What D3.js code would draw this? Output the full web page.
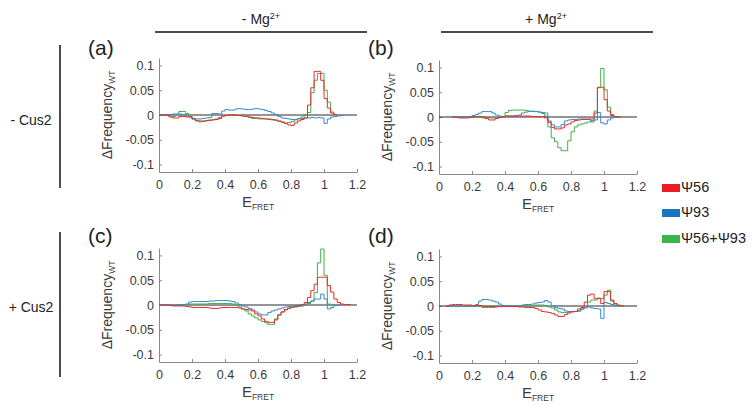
<!DOCTYPE html>
<html><head><meta charset="utf-8">
<script src="https://cdn.jsdelivr.net/npm/d3@7/dist/d3.min.js"></script>
<style>
html,body{margin:0;padding:0;background:#fff;}
svg text{font-family:"Liberation Sans",Arial,sans-serif;}
</style></head>
<body>
<svg id="chart" width="754" height="407"></svg>
<script>
// ---------- data ----------
const binWidth = 0.02;
const efret = d3.range(60).map(i => +(i * binWidth).toFixed(2)); // bin starts 0 .. 1.18
const xTicks = [0, 0.2, 0.4, 0.6, 0.8, 1, 1.2];
const yTicks = [-0.1, -0.05, 0, 0.05, 0.1];
const seriesNames = ["Ψ56", "Ψ93", "Ψ56+Ψ93"];
const panelLabels = ["(a)", "(b)", "(c)", "(d)"];
const colHeaders = ["- Mg", "+ Mg"];
const rowHeaders = ["- Cus2", "+ Cus2"];
const _ = null;

// panel (a): -Mg, -Cus2
const aPsi56 = [0,0,-0.001,-0.004,-0.006,-0.006,-0.003,-0.003,-0.004,-0.004,
 -0.008,-0.011,-0.012,-0.012,-0.011,-0.011,-0.010,-0.009,-0.007,-0.002,
 -0.001,0,0,-0.001,-0.001,-0.002,-0.003,-0.004,-0.005,-0.006,
 -0.006,-0.007,-0.008,-0.008,-0.009,-0.010,-0.012,-0.014,-0.017,-0.020,
 -0.021,-0.016,-0.012,-0.009,-0.006,0.020,0.055,0.088,0.088,0.070,
 0.033,0.014,0.004,0.001,_,_,_,_,_,_];
const aPsi93 = [0,0,0,0.001,0.002,0.002,0.002,0.001,-0.002,-0.004,
 -0.007,-0.008,-0.008,-0.007,-0.006,-0.005,0.003,0.003,0.002,0.008,
 0.011,0.010,0.010,0.012,0.013,0.012,0.011,0.011,0.012,0.013,
 0.012,0.011,0.009,0.007,0.004,0.001,-0.003,-0.006,-0.007,-0.008,
 -0.009,-0.009,-0.008,-0.007,-0.006,-0.006,-0.005,-0.006,-0.005,-0.006,
 -0.017,-0.008,-0.004,-0.003,-0.002,-0.001,_,_,_,_];
const aPsi56Psi93 = [0.001,0.001,0,-0.002,-0.003,0,0.007,0.007,0.003,-0.002,
 -0.008,-0.012,-0.014,-0.013,-0.012,-0.010,-0.009,-0.008,-0.005,-0.002,
 -0.001,0,0,0,-0.001,-0.002,-0.003,-0.005,-0.007,-0.007,
 -0.008,-0.008,-0.008,-0.009,-0.010,-0.011,-0.013,-0.015,-0.016,-0.015,
 -0.013,-0.010,-0.007,-0.004,0,0.005,0.045,0.070,0.084,0.084,
 0.050,0.026,0.006,0.001,_,_,_,_,_,_];

// panel (b): +Mg, -Cus2
const bPsi56 = [_,_,_,_,0,-0.001,-0.002,-0.002,-0.002,-0.001,
 0,0.001,0.001,0,-0.003,-0.006,-0.006,-0.003,-0.001,0.001,
 0.002,0.002,0.002,0.002,0.002,0.002,0.002,0.002,0.001,0.001,
 0.001,0.001,-0.002,-0.011,-0.021,-0.024,-0.024,-0.022,-0.016,-0.014,
 -0.010,-0.007,-0.006,-0.005,-0.005,-0.004,-0.004,0.008,0.060,0.060,
 0.035,0.012,0.003,0.001,0,_,_,_,_,_];
const bPsi93 = [_,_,_,_,0,0,0.001,0.001,0.001,0.001,
 0.003,0.005,0.008,0.011,0.011,0.011,0.008,0.004,0.002,0.001,
 0.002,0.002,0.002,0.003,0.004,0.008,0.010,0.011,0.011,0.011,
 0.010,0.009,0.008,-0.008,-0.016,-0.020,-0.020,-0.015,-0.008,-0.006,
 -0.005,-0.005,-0.004,-0.004,-0.004,-0.005,-0.010,-0.006,0.009,-0.012,
 -0.014,-0.006,-0.002,0,_,_,_,_,_,_];
const bPsi56Psi93 = [_,_,_,_,0,0,0,0,0,0,
 0,0,-0.001,-0.002,-0.002,-0.002,-0.002,-0.002,-0.001,0,
 0.009,0.013,0.014,0.014,0.014,0.014,0.013,0.012,0.012,0.011,
 0.010,0.007,0.002,-0.020,-0.042,-0.050,-0.062,-0.068,-0.068,-0.048,
 -0.030,-0.020,-0.016,-0.014,-0.012,-0.010,-0.007,0.012,0.059,0.098,
 0.055,0.020,0.005,0.001,0,_,_,_,_,_];

// panel (c): -Mg, +Cus2
const cPsi56 = [0,0,0,-0.001,-0.002,-0.002,-0.002,-0.002,-0.003,-0.004,
 -0.005,-0.005,-0.005,-0.005,-0.005,-0.006,-0.007,-0.007,-0.006,-0.005,
 -0.005,-0.005,-0.005,-0.005,-0.006,-0.008,-0.009,-0.010,-0.012,-0.018,
 -0.022,-0.028,-0.033,-0.035,-0.035,-0.030,-0.020,-0.014,-0.009,-0.006,
 -0.004,-0.003,-0.002,0,0.005,0.015,0.029,0.042,0.056,0.056,
 0.056,0.039,0.026,0.012,0.005,0.002,0.001,0.001,_,_];
const cPsi93 = [0,0,0,0,0,0.001,0.001,0.001,0.002,0.006,
 0.007,0.007,0.007,0.007,0.007,0.008,0.008,0.009,0.009,0.009,
 0.009,0.008,0.007,0.004,0.001,-0.002,-0.004,-0.007,-0.010,-0.014,
 -0.018,-0.020,-0.020,-0.015,-0.012,-0.010,-0.008,-0.006,-0.004,-0.003,
 -0.002,-0.001,0,0.001,0.002,0.005,0.008,0.012,0.012,0.022,
 0.012,-0.008,-0.005,-0.001,0,_,_,_,_,_];
const cPsi56Psi93 = [0,0,0,0,0,-0.001,-0.001,0,0.001,0.002,
 0.002,0.002,0.002,0.002,0.002,0.003,0.003,0.003,0.003,0.003,
 0.003,0.003,0.002,0,-0.004,-0.008,-0.012,-0.018,-0.022,-0.026,
 -0.030,-0.033,-0.036,-0.039,-0.039,-0.028,-0.020,-0.014,-0.010,-0.007,
 -0.005,-0.004,-0.003,-0.002,0,0.003,0.008,0.025,0.085,0.113,
 0.060,0.002,0,0,_,_,_,_,_,_];

// panel (d): +Mg, +Cus2
const dPsi56 = [_,_,0,0.002,0.003,0.003,0.003,0.002,0.002,0.002,
 0.001,0.001,0.001,0,-0.001,-0.001,-0.001,-0.001,-0.001,-0.001,
 -0.001,-0.001,-0.001,-0.001,-0.002,-0.002,-0.003,-0.003,-0.003,-0.005,
 -0.008,-0.011,-0.012,-0.013,-0.015,-0.018,-0.021,-0.021,-0.017,-0.014,
 -0.012,-0.011,-0.006,-0.003,0.008,0.022,0.024,0.015,0.015,0.005,
 0.029,0.029,0.012,0.005,0.002,0.001,_,_,_,_];
const dPsi93 = [_,_,0,0,0,0,0,0,0,0,
 0,0.003,0.010,0.013,0.013,0.012,0.010,0.008,0.004,0.001,
 0,0,0,0,0,0.002,0.003,0.003,0.004,0.006,
 0.007,0.008,0.011,0.008,0.001,-0.003,-0.005,-0.006,-0.010,-0.011,
 -0.011,-0.011,-0.010,-0.006,-0.004,-0.002,-0.004,-0.005,-0.006,-0.025,
 0.007,0.005,0.003,0.001,0,_,_,_,_,_];
const dPsi56Psi93 = [_,_,0,0,0,0,0,0,0,0,
 0,0,-0.001,-0.003,-0.003,-0.003,-0.003,-0.002,-0.001,0,
 0,0,0,0,0,0,0,0,0.001,0.002,
 0.002,0.002,0.001,-0.002,-0.004,-0.008,-0.012,-0.013,-0.013,-0.012,
 -0.011,-0.011,-0.010,-0.006,-0.002,0.008,0.012,0.012,0.016,0.015,
 0.022,0.032,0.010,0.004,0.001,0,_,_,_,_];

const panelData = [
  [aPsi56, aPsi93, aPsi56Psi93],
  [bPsi56, bPsi93, bPsi56Psi93],
  [cPsi56, cPsi93, cPsi56Psi93],
  [dPsi56, dPsi93, dPsi56Psi93]
];

// ---------- style / layout ----------
const lineColors = ["#ec2b2b", "#3b88cc", "#43ae4a"];
const legendColors = ["#ed1c24", "#1b75bc", "#39b54a"];
const panelPos = [
  {left:159, top:58}, {left:439, top:60},
  {left:159, top:248}, {left:439, top:249}
];
const pw = 198, ph = 114;
const axisColor = "#8a8a8a";
const textColor = "#3a3a3a";

const svg = d3.select("#chart");

const x = d3.scaleLinear().domain([0, 1.2]).range([0, pw]);
const y = d3.scaleLinear().domain([-0.115, 0.115]).range([ph, 0]);
const fmt = d => String(+d.toFixed(2));

function stepPoints(vals){
  const pts = [];
  vals.forEach((v, i) => { if (v !== null) pts.push([efret[i], v]); });
  const last = pts[pts.length - 1];
  pts.push([last[0] + binWidth, last[1]]);
  return pts;
}
const line = d3.line().x(d => x(d[0])).y(d => y(d[1])).curve(d3.curveStepAfter);

panelData.forEach((series, p) => {
  const pos = panelPos[p];
  const g = svg.append("g").attr("transform", `translate(${pos.left},${pos.top})`);

  // axes
  const xa = g.append("g").attr("transform", `translate(0,${ph})`)
    .call(d3.axisBottom(x).tickValues(xTicks).tickFormat(fmt).tickSizeInner(-3).tickSizeOuter(0).tickPadding(8));
  const ya = g.append("g")
    .call(d3.axisLeft(y).tickValues(yTicks).tickFormat(fmt).tickSizeInner(-3).tickSizeOuter(0).tickPadding(5));
  [xa, ya].forEach(a => {
    a.select(".domain").attr("stroke", axisColor).attr("stroke-width", 1);
    a.selectAll(".tick line").attr("stroke", axisColor);
    a.selectAll(".tick text").attr("fill", textColor).style("font-size", "12.5px")
      .style("font-family", '"Liberation Sans",Arial,sans-serif');
  });

  // zero line
  g.append("line").attr("x1", x(0)).attr("x2", x(1.2)).attr("y1", y(0)).attr("y2", y(0))
    .attr("stroke", "#2a2a2a").attr("stroke-width", 1);

  // series (draw green, blue, red)
  [2, 1, 0].forEach(s => {
    g.append("path").attr("d", line(stepPoints(series[s])))
      .attr("fill", "none").attr("stroke", lineColors[s]).attr("stroke-width", 1);
  });

  // x label
  const xl = g.append("text").attr("x", pw / 2).attr("y", ph + 35).attr("text-anchor", "middle")
    .attr("fill", textColor).style("font-size", "15px");
  xl.append("tspan").text("E");
  xl.append("tspan").attr("dy", 3).style("font-size", "8.5px").text("FRET");

  // y label
  const yl = g.append("text").attr("transform", `translate(-47,${ph / 2}) rotate(-90)`)
    .attr("text-anchor", "middle").attr("fill", textColor).style("font-size", "14px");
  yl.append("tspan").text("ΔFrequency");
  yl.append("tspan").attr("dy", 3).style("font-size", "8.5px").text("WT");

  // panel label
  svg.append("text").attr("x", pos.left - 71).attr("y", p < 2 ? 55 : 243)
    .attr("fill", "#222").style("font-size", "21px").text(panelLabels[p]);
});

// column headers
[261, 546].forEach((cx, i) => {
  const t = svg.append("text").attr("x", cx).attr("y", 24).attr("text-anchor", "middle")
    .attr("fill", "#222").style("font-size", "14px");
  t.append("tspan").text(colHeaders[i]);
  t.append("tspan").attr("dy", -5).style("font-size", "9px").text("2+");
});
[[155, 367], [441, 653]].forEach(([x1, x2]) => {
  svg.append("line").attr("x1", x1).attr("x2", x2).attr("y1", 32).attr("y2", 32)
    .attr("stroke", "#111").attr("stroke-width", 1.5);
});

// row headers
[[45, 188, 125], [232, 377, 312]].forEach(([y1, y2, ty], i) => {
  svg.append("line").attr("x1", 60).attr("x2", 60).attr("y1", y1).attr("y2", y2)
    .attr("stroke", "#111").attr("stroke-width", 1.5);
  svg.append("text").attr("x", 31).attr("y", ty).attr("text-anchor", "middle")
    .attr("fill", "#222").style("font-size", "14px").text(rowHeaders[i]);
});

// legend
const legY = [192, 217, 243];
seriesNames.forEach((n, i) => {
  svg.append("rect").attr("x", 662).attr("y", legY[i] - 8).attr("width", 18).attr("height", 8)
    .attr("fill", legendColors[i]);
  svg.append("text").attr("x", 681).attr("y", legY[i]).attr("fill", "#222")
    .style("font-size", "14.5px").text(n);
});
</script>
</body></html>
